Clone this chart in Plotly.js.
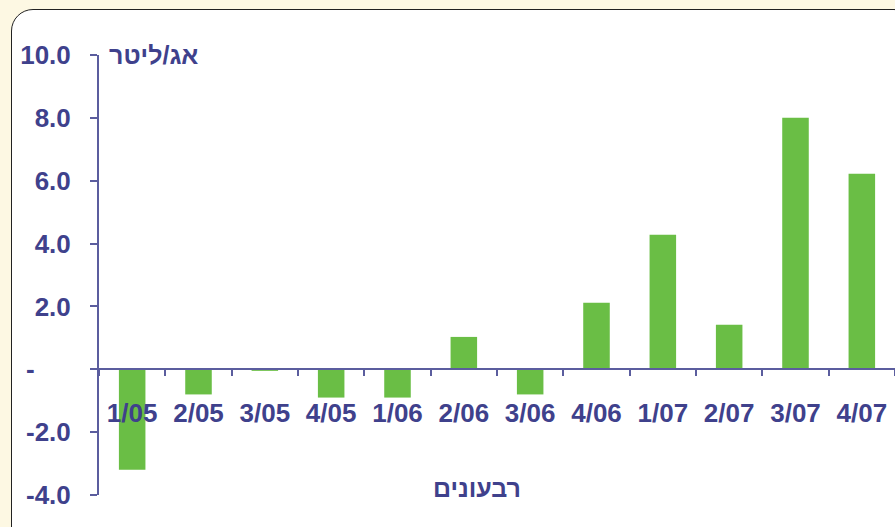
<!DOCTYPE html>
<html>
<head>
<meta charset="utf-8">
<script src="https://cdn.plot.ly/plotly-3.0.1.min.js"></script>
<style>
  html, body { margin:0; padding:0; width:895px; height:527px; overflow:hidden; background:#fdf8e3; }
  #panel { position:absolute; left:11px; top:9px; width:905px; height:540px; background:#ffffff;
           border:1.5px solid #222; border-radius:22px; box-sizing:border-box; }
  #chart { position:absolute; left:0; top:0; width:895px; height:527px; }
</style>
</head>
<body>
<div id="panel"></div>
<div id="chart"></div>
<script>
const categories = ["1/05","2/05","3/05","4/05","1/06","2/06","3/06","4/06","1/07","2/07","3/07","4/07"];
const values = [-3.2, -0.8, -0.05, -0.9, -0.9, 1.03, -0.8, 2.12, 4.28, 1.42, 8.0, 6.22];
const yTickVals = [-4, -2, 0, 2, 4, 6, 8, 10];
const yTickText = ["-4.0", "-2.0", "-\u2007\u2007\u2008", "2.0", "4.0", "6.0", "8.0", "10.0"];
const yTitle = "אג/ליטר";
const xTitle = "רבעונים";

const navy = "#3f418c";
const axisCol = "#5b5d9e";
const fontFam = "'Liberation Sans', Arial, 'DejaVu Sans', sans-serif";

const trace = {
  type: "bar",
  x: categories,
  y: values,
  width: 0.4,
  marker: { color: "#6abe45", line: { width: 0 } },
  hoverinfo: "none"
};

const layout = {
  width: 895, height: 527,
  margin: { l: 99, r: 0, t: 55, b: 32, pad: 0 },
  paper_bgcolor: "rgba(0,0,0,0)",
  plot_bgcolor: "rgba(0,0,0,0)",
  showlegend: false,
  xaxis: {
    type: "category",
    range: [-0.5, 11.5],
    anchor: "free",
    position: 126 / 440,
    showline: true, linecolor: axisCol, linewidth: 2,
    ticks: "outside", ticklen: 6, tickwidth: 2, tickcolor: axisCol,
    tickson: "boundaries",
    ticklabelstandoff: 21,
    showgrid: false, zeroline: false,
    tickfont: { family: fontFam, size: 26, color: navy, weight: "bold" },
    fixedrange: true
  },
  yaxis: {
    range: [-4, 10],
    tickmode: "array", tickvals: yTickVals, ticktext: yTickText,
    showline: true, linecolor: axisCol, linewidth: 2,
    ticks: "outside", ticklen: 7, tickwidth: 2, tickcolor: axisCol,
    ticklabelstandoff: 14,
    showgrid: false, zeroline: false,
    tickfont: { family: fontFam, size: 26, color: navy, weight: "bold" },
    fixedrange: true
  },
  annotations: [
    { text: yTitle, xref: "paper", yref: "paper", x: 8 / 796, y: (495 - 55) / 440,
      xanchor: "left", yanchor: "middle", showarrow: false,
      font: { family: fontFam, size: 25, color: navy, weight: "bold" } },
    { text: xTitle, xref: "paper", yref: "paper", x: (477 - 99) / 796, y: (495 - 488) / 440,
      xanchor: "center", yanchor: "middle", showarrow: false,
      font: { family: fontFam, size: 25, color: navy, weight: "bold" } }
  ]
};

Plotly.newPlot("chart", [trace], layout, { displayModeBar: false, staticPlot: true });
</script>
</body>
</html>
